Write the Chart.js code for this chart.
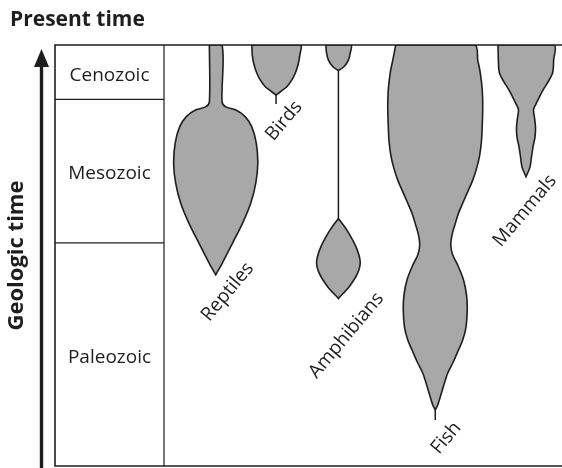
<!DOCTYPE html>
<html>
<head>
<meta charset="utf-8">
<script src="https://cdn.jsdelivr.net/npm/chart.js@4.4.1/dist/chart.umd.min.js"></script>
<style>
  html, body { margin: 0; padding: 0; background: #fff; }
</style>
</head>
<body>
<canvas id="chart" width="562" height="468"></canvas>
<script>
// geologic time: 0 = oldest (bottom), 100 = present (top); widths in the same relative units (x 0..100)
const eras = ['Cenozoic', 'Mesozoic', 'Paleozoic'];
const eraTop = [100, 87.1, 53.0];
const eraBottom = [87.1, 53.0, 0];
const eraColumnWidth = 21.5;

const groups = ['Reptiles', 'Birds', 'Amphibians', 'Fish', 'Mammals'];
const groupCenter = [31.7, 43.6, 55.9, 75.0, 92.9];

// spindles: time levels from top to bottom, half-width (diversity) at each level
const reptilesTime = [100, 86.5, 85.3, 84.6, 83.0, 80.6, 76.7, 71.9, 67.2, 62.4, 57.7, 52.9, 48.2, 45.4];
const reptilesWidth = [1.25, 1.25, 2.0, 3.9, 5.8, 7.1, 8.0, 8.3, 7.9, 6.9, 5.3, 3.3, 1.3, 0];

const birdsTime = [100, 97.6, 95.3, 93.3, 91.7, 90.1, 89.1, 88.1];
const birdsWidth = [4.77, 4.69, 4.34, 3.79, 3.12, 2.13, 1.08, 0];

const amphibiansLateTime = [100, 98.3, 96.4, 94.9, 93.9];
const amphibiansLateWidth = [2.47, 2.37, 1.97, 1.14, 0];
const amphibiansEarlyTime = [58.8, 56.1, 52.1, 48.5, 45.8, 42.6, 39.8];
const amphibiansEarlyWidth = [0, 1.64, 3.45, 4.30, 3.79, 2.13, 0];

const fishTime = [100, 96.4, 93.4, 89.3, 85.3, 81.0, 77.4, 73.9, 71.0, 67.9, 65.6, 62.7, 60.1, 57.2, 54.9,
                  52.5, 50.1, 47.7, 44.2, 40.6, 37.1, 33.0, 29.9, 27.6, 24.7, 22.1, 19.2, 16.4, 14.5, 13.3];
const fishWidth = [7.79, 8.38, 8.88, 9.27, 9.37, 9.27, 9.13, 8.78, 8.22, 7.40, 6.57, 5.52, 4.60, 3.85, 3.31,
                   3.06, 3.45, 4.44, 5.58, 6.17, 6.31, 6.07, 5.42, 4.60, 3.55, 2.47, 1.68, 0.99, 0.49, 0];

const mammalsTime = [100, 96.4, 93.4, 91.0, 89.3, 87.7, 86.0, 84.6, 82.7, 80.5, 78.2, 75.8, 73.4, 71.0, 68.7];
const mammalsWidth = [5.52, 5.45, 5.25, 4.24, 3.35, 2.66, 1.97, 1.48, 1.68, 1.87, 1.78, 1.38, 1.08, 0.79, 0];

// thin connecting lines (birds, amphibians, fish)
const stemGroup = [1, 2, 3];
const stemTop = [88.1, 93.9, 13.3];
const stemBottom = [86.0, 58.8, 10.9];

const spindles = [
    { group: 0, time: reptilesTime, width: reptilesWidth },
    { group: 1, time: birdsTime, width: birdsWidth },
    { group: 2, time: amphibiansLateTime, width: amphibiansLateWidth },
    { group: 2, time: amphibiansEarlyTime, width: amphibiansEarlyWidth },
    { group: 3, time: fishTime, width: fishWidth },
    { group: 4, time: mammalsTime, width: mammalsWidth },
];

const FONT = '"Open Sans", "DejaVu Sans", sans-serif';
const INK = '#1e1e1e';

function outline(c, time, width) {
    const left = time.map((t, i) => ({ x: c - width[i], y: t }));
    const right = time.map((t, i) => ({ x: c + width[i], y: t })).reverse();
    return left.concat(right, [left[0]]);
}

const datasets = [];

spindles.forEach(s => {
    datasets.push({
        data: outline(groupCenter[s.group], s.time, s.width),
        borderColor: INK,
        borderWidth: 1.6,
        backgroundColor: '#a8a8a8',
        fill: 'shape',
        tension: 0.3,
        pointRadius: 0,
    });
});

stemGroup.forEach((g, i) => {
    datasets.push({
        data: [{ x: groupCenter[g], y: stemTop[i] }, { x: groupCenter[g], y: stemBottom[i] }],
        borderColor: INK,
        borderWidth: 1.5,
        fill: false,
        pointRadius: 0,
    });
});

// era column: boundaries and its right edge
eraBottom.slice(0, -1).forEach(b => {
    datasets.push({
        data: [{ x: 0, y: b }, { x: eraColumnWidth, y: b }],
        borderColor: INK, borderWidth: 1.2, fill: false, pointRadius: 0,
    });
});
datasets.push({
    data: [{ x: eraColumnWidth, y: 0 }, { x: eraColumnWidth, y: 100 }],
    borderColor: INK, borderWidth: 1.2, fill: false, pointRadius: 0,
});

const labelOffset = [[12, 17], [8, 17], [8, 37], [11, 18], [-1, 34]];

const decorations = {
    id: 'decorations',
    afterDatasetsDraw(chart) {
        const { ctx, chartArea: a, scales: { x, y } } = chart;
        ctx.save();

        // frame (right edge runs off the picture)
        ctx.strokeStyle = INK;
        ctx.lineWidth = 1.6;
        ctx.beginPath();
        ctx.moveTo(a.right + 2, a.top);
        ctx.lineTo(a.left, a.top);
        ctx.lineTo(a.left, a.bottom);
        ctx.lineTo(a.right + 2, a.bottom);
        ctx.stroke();

        // arrow of time
        const ax = a.left - 13.5;
        ctx.lineWidth = 3.4;
        ctx.beginPath();
        ctx.moveTo(ax, a.bottom + 2);
        ctx.lineTo(ax, a.top + 18);
        ctx.stroke();
        ctx.fillStyle = INK;
        ctx.beginPath();
        ctx.moveTo(ax, a.top + 4);
        ctx.lineTo(ax - 7.5, a.top + 22);
        ctx.lineTo(ax + 7.5, a.top + 22);
        ctx.closePath();
        ctx.fill();

        // era names
        ctx.font = '19px ' + FONT;
        ctx.textAlign = 'center';
        ctx.textBaseline = 'middle';
        const ex = x.getPixelForValue(eraColumnWidth / 2);
        eras.forEach((name, i) => {
            const ey = (y.getPixelForValue(eraTop[i]) + y.getPixelForValue(eraBottom[i])) / 2 + 3;
            ctx.fillText(name, ex, ey);
        });

        // group names, slanted under each spindle's oldest point
        groups.forEach((name, g) => {
            let low = 100;
            spindles.forEach(s => { if (s.group === g) low = Math.min(low, ...s.time); });
            stemGroup.forEach((sg, i) => { if (sg === g) low = Math.min(low, stemBottom[i]); });
            const px = x.getPixelForValue(groupCenter[g]) + labelOffset[g][0];
            const py = y.getPixelForValue(low) + labelOffset[g][1];
            ctx.save();
            ctx.translate(px, py);
            ctx.rotate(-50 * Math.PI / 180);
            ctx.fillText(name, 0, 0);
            ctx.restore();
        });

        ctx.restore();
    }
};

new Chart(document.getElementById('chart'), {
    type: 'line',
    data: { datasets },
    options: {
        responsive: false,
        animation: false,
        devicePixelRatio: 1,
        layout: { padding: { left: 10, top: 0, right: 0, bottom: 2 } },
        plugins: {
            legend: { display: false },
            tooltip: { enabled: false },
            title: {
                display: true,
                text: 'Present time',
                align: 'start',
                color: INK,
                font: { family: FONT, size: 21, weight: 'bold', lineHeight: 1.2 },
                padding: { top: 7, bottom: 12.8 },
            },
        },
        scales: {
            x: { type: 'linear', min: 0, max: 100, display: false },
            y: {
                type: 'linear', min: 0, max: 100,
                ticks: { display: false },
                grid: { display: false },
                border: { display: false },
                title: {
                    display: true,
                    text: 'Geologic time',
                    color: INK,
                    font: { family: FONT, size: 22, weight: 'bold', lineHeight: 0.6 },
                    padding: 0,
                },
                afterFit(scale) { scale.width = 45; },
            },
        },
    },
    plugins: [decorations],
});
</script>
</body>
</html>
